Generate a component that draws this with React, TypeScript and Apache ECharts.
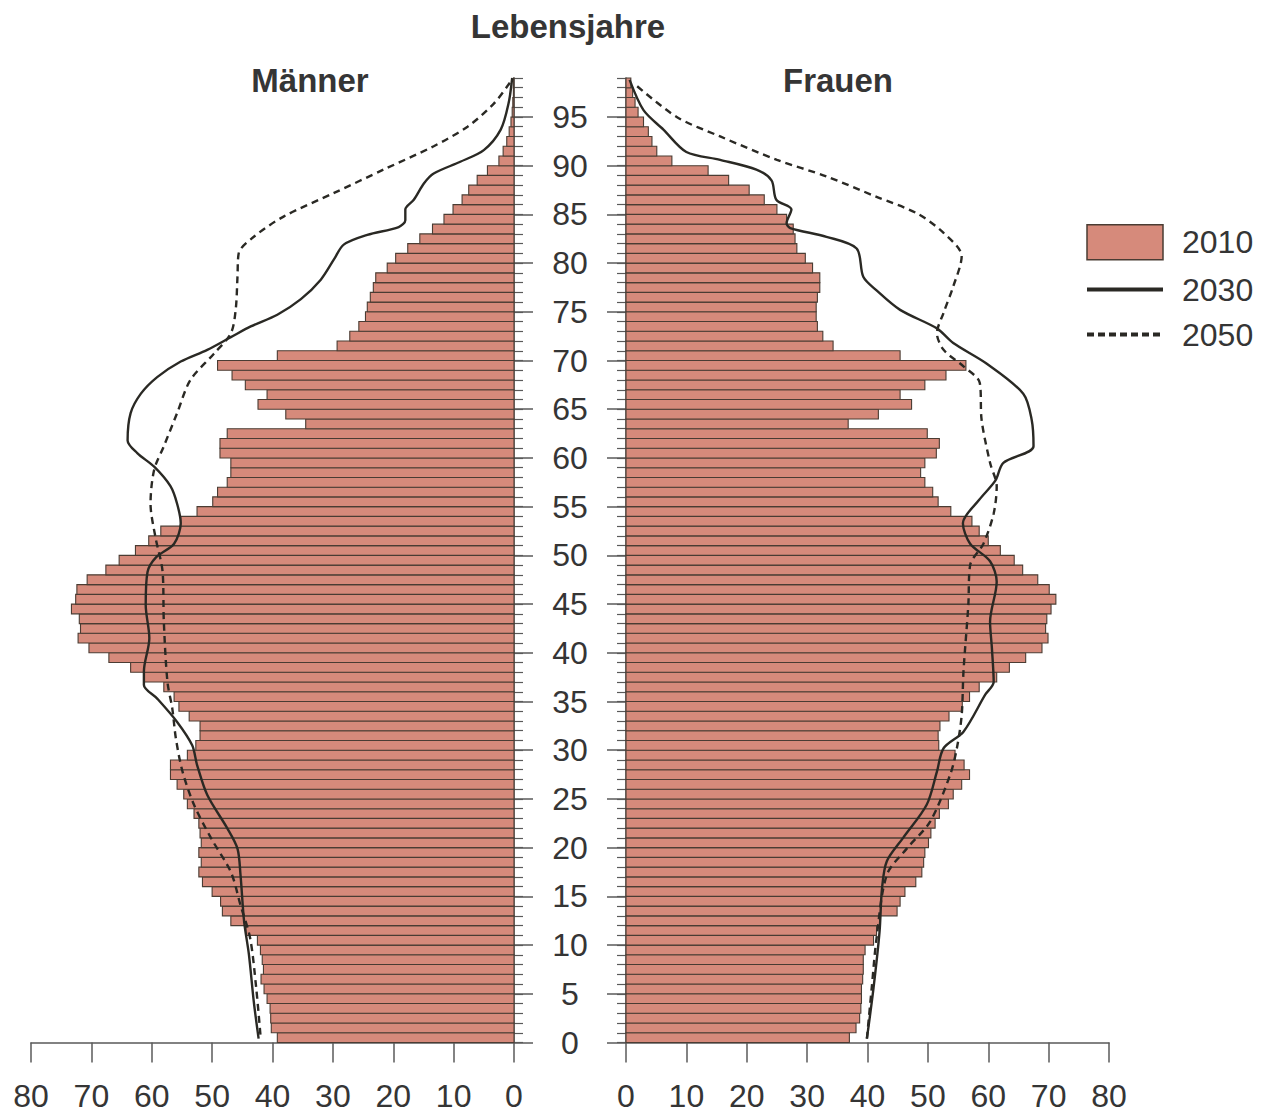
import React, { useEffect, useRef } from "react";
import * as echarts from "echarts";

// ---- data (Lebensjahre 0..98, values per age year) ----
const ages = [
  0, 1, 2, 3, 4, 5, 6, 7, 8, 9, 10, 11, 12, 13, 14, 15, 16, 17, 18, 19,
  20, 21, 22, 23, 24, 25, 26, 27, 28, 29, 30, 31, 32, 33, 34, 35, 36, 37, 38, 39,
  40, 41, 42, 43, 44, 45, 46, 47, 48, 49, 50, 51, 52, 53, 54, 55, 56, 57, 58, 59,
  60, 61, 62, 63, 64, 65, 66, 67, 68, 69, 70, 71, 72, 73, 74, 75, 76, 77, 78, 79,
  80, 81, 82, 83, 84, 85, 86, 87, 88, 89, 90, 91, 92, 93, 94, 95, 96, 97, 98,
];

const male2010 = [
  39.2, 40.2, 40.3, 40.4, 40.9, 41.4, 41.9, 41.5, 41.7, 42.0,
  42.5, 44.4, 46.9, 48.3, 48.6, 50.0, 51.6, 52.2, 51.8, 52.2,
  51.8, 52.0, 52.2, 53.0, 54.1, 54.7, 55.8, 56.9, 56.9, 54.1,
  52.7, 52.0, 52.0, 53.8, 55.5, 56.3, 58.0, 61.3, 63.5, 67.1,
  70.4, 72.2, 71.8, 72.0, 73.3, 72.6, 72.4, 70.7, 67.6, 65.4,
  62.7, 60.5, 58.5, 55.2, 52.5, 49.9, 49.1, 47.5, 46.9, 46.9,
  48.7, 48.7, 47.5, 34.5, 37.8, 42.4, 40.9, 44.5, 46.7, 49.1,
  39.2, 29.3, 27.2, 25.7, 24.6, 24.3, 23.8, 23.3, 22.9, 21.0,
  19.6, 17.6, 15.6, 13.5, 11.6, 10.1, 8.6, 7.5, 6.1, 4.4,
  2.5, 1.8, 1.2, 0.8, 0.5, 0.3, 0.2, 0.1, 0.1,
];

const female2010 = [
  37.0, 38.1, 38.7, 38.9, 39.0, 39.0, 39.2, 39.3, 39.3, 39.6,
  41.0, 41.5, 42.0, 44.9, 45.4, 46.2, 48.0, 49.0, 49.3, 49.5,
  50.1, 50.5, 51.2, 51.9, 53.4, 54.2, 55.6, 56.9, 56.0, 54.5,
  51.8, 51.7, 52.0, 53.5, 55.7, 56.9, 58.5, 61.4, 63.5, 66.2,
  68.9, 69.9, 69.5, 69.7, 70.4, 71.2, 70.1, 68.2, 65.7, 64.3,
  62.0, 60.0, 58.5, 57.3, 53.8, 51.7, 50.8, 49.5, 48.8, 49.5,
  51.4, 51.9, 49.9, 36.8, 41.8, 47.3, 45.4, 49.5, 53.0, 56.3,
  45.4, 34.3, 32.6, 31.7, 31.5, 31.5, 31.7, 32.1, 32.1, 30.9,
  29.7, 28.3, 28.0, 27.7, 26.6, 25.0, 22.9, 20.4, 17.0, 13.6,
  7.6, 5.1, 4.3, 3.7, 2.9, 2.0, 1.5, 1.1, 0.8,
];

// projection lines: read points (age, value)
const male2030Ages = [
  0.4, 4.2, 9.0, 12.4, 17.2, 19.9, 22.0, 25.4, 28.5, 30.5, 32.9, 35.3, 36.7, 38.1,
  41.5, 44.9, 48.3, 49.8, 51.2, 53.3, 55.3, 57.1, 59.1, 60.5, 61.8, 64.6, 66.6,
  68.3, 69.9, 71.1, 72.4, 73.5, 74.7, 76.3, 78.3, 80.4, 81.9, 82.9, 83.7, 84.4,
  85.5, 86.5, 88.2, 89.2, 90.4, 91.6, 93.7, 96.4, 99.0,
];
const male2030 = [
  42.3, 43.1, 43.9, 44.7, 45.3, 45.8, 47.5, 50.8, 52.5, 53.3, 55.8, 59.1, 61.3, 61.3,
  60.4, 61.0, 60.7, 59.3, 56.3, 55.2, 55.8, 56.9, 59.6, 62.4, 64.0, 63.5, 61.8,
  59.1, 55.2, 50.8, 46.9, 43.6, 39.2, 35.3, 32.0, 29.8, 28.2, 24.3, 19.1, 18.0,
  18.0, 16.6, 14.9, 13.3, 8.9, 5.0, 2.2, 0.9, 0.3,
];

const male2050Ages = [
  0.8, 5.6, 10.7, 14.1, 17.5, 21.0, 24.4, 27.8, 31.2, 34.3, 37.0, 43.2, 48.3,
  51.9, 55.3, 58.8, 61.2, 64.6, 68.0, 70.7, 72.8, 75.2, 78.6, 81.0, 82.7, 84.8,
  87.2, 89.6, 92.0, 94.0, 96.4, 98.6,
];
const male2050 = [
  42.0, 42.7, 43.7, 45.3, 46.9, 50.2, 53.0, 54.9, 56.0, 56.6, 57.4, 58.0, 58.2,
  59.4, 60.2, 59.6, 58.0, 55.8, 53.6, 49.7, 46.9, 46.1, 45.8, 45.6, 43.1, 38.1,
  29.8, 21.6, 13.3, 7.7, 3.3, 0.6,
];

const female2030Ages = [
  0.4, 5.6, 11.4, 15.8, 18.6, 21.0, 24.4, 27.8, 30.2, 31.9, 35.7, 37.0, 40.5,
  43.2, 47.3, 49.4, 51.2, 53.3, 55.7, 57.7, 59.5, 61.2, 63.9, 66.6, 69.7, 71.8,
  73.3, 75.2, 77.2, 78.6, 81.5, 82.7, 83.6, 84.1, 85.5, 86.5, 88.5, 89.6, 90.6,
  91.4, 93.7, 95.7, 98.8,
];
const female2030 = [
  39.9, 41.0, 42.0, 42.4, 43.2, 45.9, 49.8, 51.5, 52.6, 55.9, 59.5, 60.9, 60.6,
  60.3, 61.4, 60.3, 57.0, 55.8, 58.5, 61.2, 62.5, 67.5, 67.2, 65.8, 59.7, 54.2,
  51.5, 45.4, 41.5, 39.3, 38.2, 33.2, 27.2, 26.6, 27.4, 24.9, 24.1, 21.6, 15.6,
  10.0, 6.2, 2.9, 0.6,
];

const female2050Ages = [
  0.4, 5.6, 10.7, 17.2, 19.9, 22.7, 27.5, 30.2, 33.6, 38.1, 44.9, 49.0, 51.2,
  54.3, 57.1, 59.5, 63.9, 67.7, 69.4, 71.1, 72.8, 74.9, 77.6, 80.7, 83.1, 85.1,
  86.8, 88.9, 90.6, 93.0, 95.0, 98.5,
];
const female2050 = [
  39.9, 40.7, 41.5, 43.2, 46.5, 50.4, 53.7, 54.8, 55.6, 55.9, 56.7, 57.0, 59.2,
  60.9, 61.4, 60.3, 58.9, 58.6, 55.9, 52.6, 51.5, 52.6, 54.2, 55.6, 52.6, 48.2,
  41.5, 33.2, 25.0, 15.6, 8.4, 1.2,
];

const populationTicks = [0, 10, 20, 30, 40, 50, 60, 70, 80];
const ageTicks = [0, 5, 10, 15, 20, 25, 30, 35, 40, 45, 50, 55, 60, 65, 70, 75, 80, 85, 90, 95];
const legendNames = ["2010", "2030", "2050"];

// ---- styling ----
const FONT = '"Liberation Sans", Arial, Helvetica, sans-serif';
const TEXT = "#353535";
const AXIS = "#5a5a5a";
const BAR_FILL = "#d68a7b";
const BAR_EDGE = "#4a3c33";
const LINE = "#2a2924";
const LABEL_SIZE = 32;
const TITLE_FONT = `bold 33px ${FONT}`;

const pairs = (vals: number[], ys: number[]) => vals.map((v, i) => [v, ys[i]]);

const renderBar = (_params: any, api: any) => {
  const v = api.value(0);
  const a = api.value(1);
  const p0 = api.coord([0, a]);
  const p1 = api.coord([v, a + 1]);
  return {
    type: "rect",
    shape: {
      x: Math.min(p0[0], p1[0]),
      y: Math.min(p0[1], p1[1]),
      width: Math.abs(p1[0] - p0[0]),
      height: Math.abs(p1[1] - p0[1]),
    },
    style: { fill: BAR_FILL, stroke: BAR_EDGE, lineWidth: 1.1 },
  };
};

const xAxisFor = (grid: number, inverse: boolean) => ({
  gridIndex: grid,
  type: "value",
  min: populationTicks[0],
  max: populationTicks[populationTicks.length - 1],
  interval: 10,
  inverse,
  axisLine: { show: true, onZero: false, lineStyle: { color: AXIS, width: 1.5 } },
  axisTick: { show: true, length: 20, lineStyle: { color: AXIS, width: 1.5 } },
  axisLabel: { show: true, fontSize: LABEL_SIZE, color: TEXT, fontFamily: FONT, margin: 37 },
  splitLine: { show: false },
});

const yMajor = (grid: number, position: string, labels: boolean) => ({
  gridIndex: grid,
  type: "value",
  min: 0,
  max: 99,
  interval: 5,
  position,
  axisLine: { show: true, onZero: false, lineStyle: { color: AXIS, width: 1.5 } },
  axisTick: { show: true, length: 19, customValues: ageTicks, lineStyle: { color: AXIS, width: 1.5 } },
  axisLabel: {
    show: labels,
    customValues: ageTicks,
    align: "center",
    margin: 56,
    fontSize: LABEL_SIZE,
    color: TEXT,
    fontFamily: FONT,
  },
  splitLine: { show: false },
});

const yMinor = (grid: number, position: string) => ({
  gridIndex: grid,
  type: "value",
  min: 0,
  max: 99,
  interval: 1,
  position,
  axisLine: { show: false },
  axisTick: { show: true, length: 9, lineStyle: { color: AXIS, width: 1.2 } },
  axisLabel: { show: false },
  splitLine: { show: false },
});

const lineSeries = (name: string, x: number, y: number, data: number[][], dashed: boolean) => ({
  name,
  type: "line",
  xAxisIndex: x,
  yAxisIndex: y,
  data,
  symbol: "none",
  smooth: 0.3,
  z: 5,
  color: LINE,
  lineStyle: { color: LINE, width: 2.4, type: dashed ? [7, 5] : "solid" },
});

export default function App() {
  const ref = useRef<HTMLDivElement>(null);

  useEffect(() => {
    if (!ref.current) return;
    const chart = echarts.init(ref.current, undefined, { renderer: "svg" });
    const gridTop = 78;
    const gridHeight = 964.5;
    const titleStyle = (text: string) => ({
      text,
      fill: TEXT,
      font: TITLE_FONT,
      align: "center",
      verticalAlign: "middle",
      textAlign: "center",
      textVerticalAlign: "middle",
    });
    chart.setOption({
      animation: false,
      backgroundColor: "#ffffff",
      grid: [
        { left: 31, top: gridTop, width: 483, height: gridHeight, containLabel: false, outerBoundsMode: "none" },
        { left: 626, top: gridTop, width: 483, height: gridHeight, containLabel: false, outerBoundsMode: "none" },
      ],
      xAxis: [xAxisFor(0, true), xAxisFor(1, false)],
      yAxis: [yMajor(0, "right", true), yMinor(0, "right"), yMajor(1, "left", false), yMinor(1, "left")],
      legend: {
        orient: "vertical",
        left: 1085,
        top: 224,
        padding: 0,
        itemWidth: 76,
        itemHeight: 35,
        itemGap: 13,
        selectedMode: false,
        textStyle: { fontSize: LABEL_SIZE, color: TEXT, fontFamily: FONT, padding: [0, 0, 0, 14] },
        data: [
          { name: legendNames[0], icon: "rect", itemStyle: { color: BAR_FILL, borderColor: BAR_EDGE, borderWidth: 1.5 } },
          { name: legendNames[1], itemStyle: { opacity: 0 }, lineStyle: { width: 4, color: LINE } },
          { name: legendNames[2], itemStyle: { opacity: 0 }, lineStyle: { width: 4, color: LINE, type: [7, 4] } },
        ],
      },
      graphic: [
        { type: "text", x: 568, y: 26, style: titleStyle("Lebensjahre") },
        { type: "text", x: 310, y: 80, style: titleStyle("Männer") },
        { type: "text", x: 838, y: 80, style: titleStyle("Frauen") },
      ],
      series: [
        {
          name: legendNames[0],
          type: "custom",
          xAxisIndex: 0,
          yAxisIndex: 0,
          renderItem: renderBar,
          encode: { x: 0, y: 1 },
          itemStyle: { color: BAR_FILL, borderColor: BAR_EDGE, borderWidth: 1 },
          data: pairs(male2010, ages),
          z: 2,
        },
        {
          name: legendNames[0],
          type: "custom",
          xAxisIndex: 1,
          yAxisIndex: 2,
          renderItem: renderBar,
          encode: { x: 0, y: 1 },
          itemStyle: { color: BAR_FILL, borderColor: BAR_EDGE, borderWidth: 1 },
          data: pairs(female2010, ages),
          z: 2,
        },
        lineSeries(legendNames[1], 0, 0, pairs(male2030, male2030Ages), false),
        lineSeries(legendNames[2], 0, 0, pairs(male2050, male2050Ages), true),
        lineSeries(legendNames[1], 1, 2, pairs(female2030, female2030Ages), false),
        lineSeries(legendNames[2], 1, 2, pairs(female2050, female2050Ages), true),
      ],
    });
    return () => chart.dispose();
  }, []);

  return (
    <div
      ref={ref}
      style={{ position: "absolute", left: 0, top: 0, width: 1263, height: 1118, background: "#fff" }}
    />
  );
}
